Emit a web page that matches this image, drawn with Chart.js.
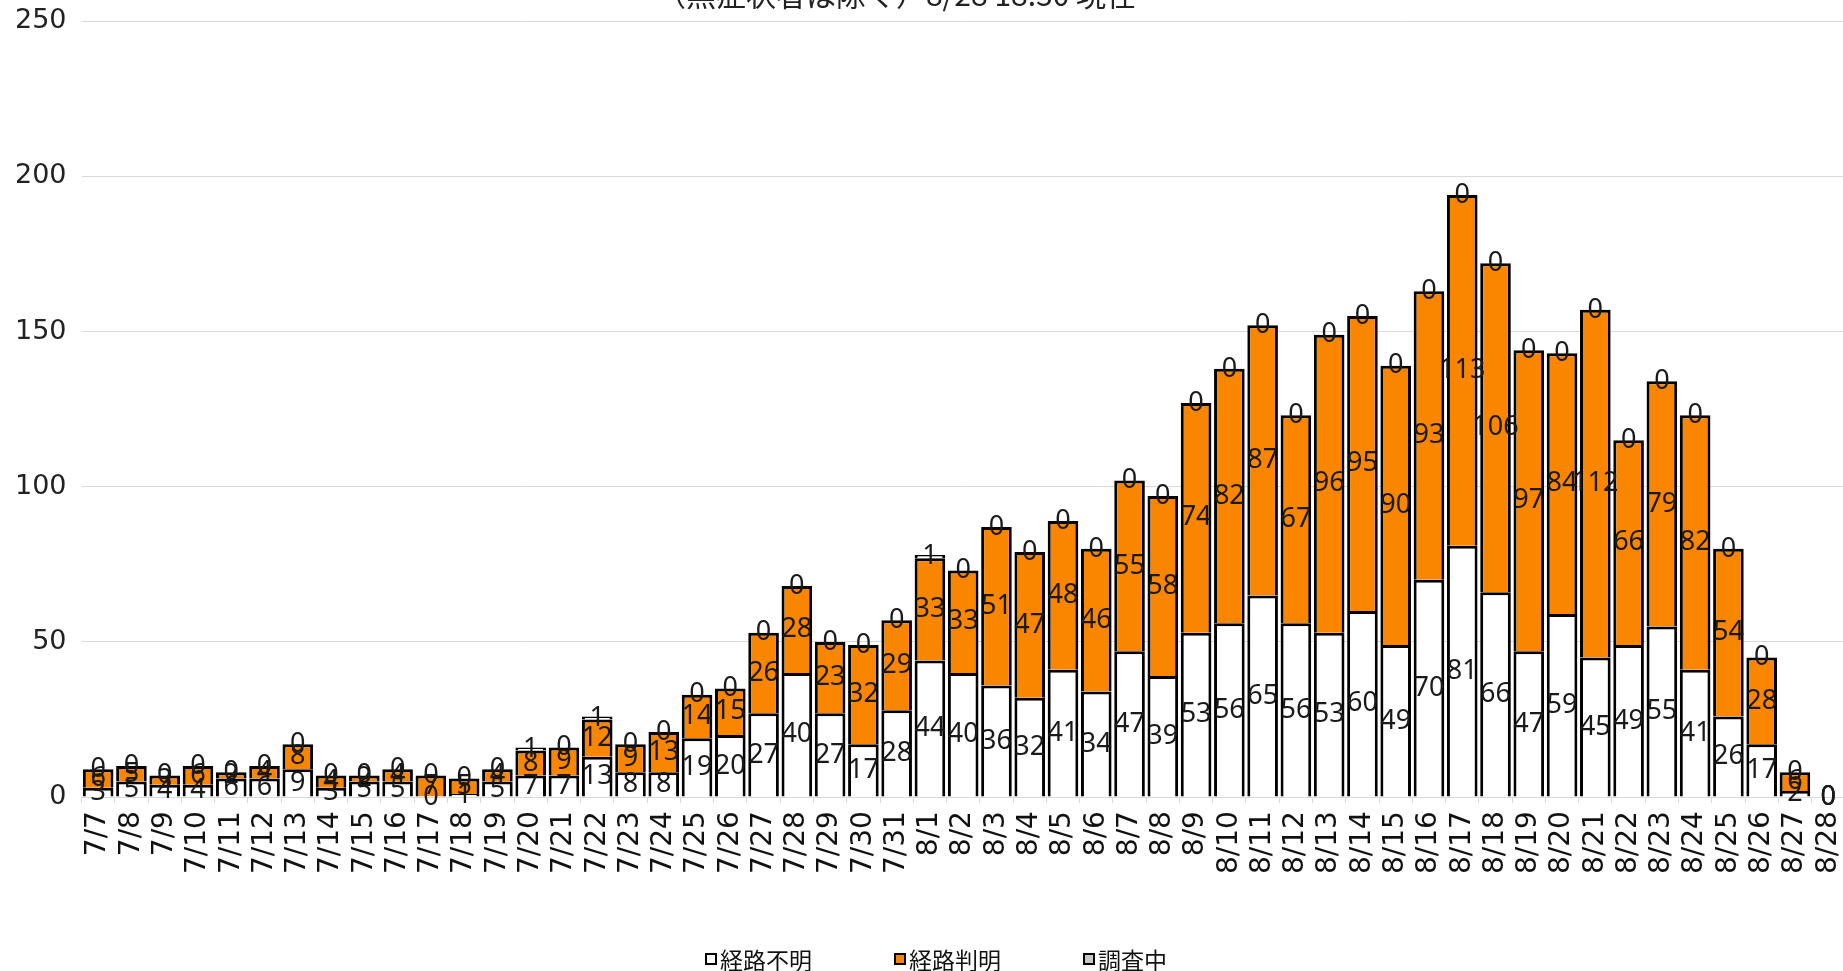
<!DOCTYPE html>
<html>
<head>
<meta charset="utf-8">
<script src="https://cdn.jsdelivr.net/npm/chart.js@4.4.1/dist/chart.umd.min.js"></script>
<style>
  html, body { margin: 0; padding: 0; background: #fff; overflow: hidden; width: 1843px; height: 971px; }
  #chartBox { position: absolute; left: 0; top: -10px; }
  #legend { position: absolute; top: 945px; left: 705px; display: flex; gap: 82px;
            font: 23px "Noto Sans CJK JP"; color: #111; line-height: 28px; }
  #legend .item { display: flex; align-items: center; }
  #legend .box { width: 8px; height: 8px; border: 2px solid #000; margin-right: 3px; }
</style>
</head>
<body>
<div id="chartBox"><canvas id="chart" width="1870" height="981"></canvas></div>
<div id="legend"></div>
<script>
const dates = [
  "7/7","7/8","7/9","7/10","7/11","7/12","7/13","7/14","7/15","7/16","7/17","7/18","7/19",
  "7/20","7/21","7/22","7/23","7/24","7/25","7/26","7/27","7/28","7/29","7/30","7/31",
  "8/1","8/2","8/3","8/4","8/5","8/6","8/7","8/8","8/9","8/10","8/11","8/12","8/13","8/14",
  "8/15","8/16","8/17","8/18","8/19","8/20","8/21","8/22","8/23","8/24","8/25","8/26","8/27","8/28"
];
// 経路不明
const unknownRoute = [
  3,5,4,4,6,6,9,3,5,5,0,1,5,7,7,13,8,8,19,20,27,40,27,17,28,
  44,40,36,32,41,34,47,39,53,56,65,56,53,60,49,70,81,66,47,59,45,49,55,41,26,17,2,0
];
// 経路判明
const knownRoute = [
  6,5,3,6,2,4,8,4,2,4,7,5,4,8,9,12,9,13,14,15,26,28,23,32,29,
  33,33,51,47,48,46,55,58,74,82,87,67,96,95,90,93,113,106,97,84,112,66,79,82,54,28,6,0
];
// 調査中
const investigating = [
  0,0,0,0,0,0,0,0,0,0,0,0,0,1,0,1,0,0,0,0,0,0,0,0,0,
  1,0,0,0,0,0,0,0,0,0,0,0,0,0,0,0,0,0,0,0,0,0,0,0,0,0,0,0
];
const seriesNames = ["経路不明", "経路判明", "調査中"];
const seriesColors = ["#ffffff", "#fa8600", "#ffffff"];
const titleText = "（無症状者は除く）8/28 18:30 現在";

const barStyle = {
  borderColor: "#000",
  borderWidth: { top: 3, left: 3, right: 3, bottom: 0 },
  borderSkipped: false,
  barPercentage: 0.92,
  categoryPercentage: 1,
};

const valueLabels = {
  id: "valueLabels",
  afterDatasetsDraw(chart) {
    const ctx = chart.ctx;
    ctx.save();
    ctx.font = '27px "Noto Sans"';
    ctx.fillStyle = "#1a1a1a";
    ctx.textAlign = "center";
    ctx.textBaseline = "middle";
    chart.data.datasets.forEach((ds, i) => {
      chart.getDatasetMeta(i).data.forEach((bar, j) => {
        ctx.fillText(String(ds.data[j]), bar.x, (bar.y + bar.base) / 2);
      });
    });
    ctx.restore();
  }
};

// title sits mostly above the picture, only its bottom edge shows
const cutTitle = {
  id: "cutTitle",
  afterDraw(chart) {
    const ctx = chart.ctx;
    ctx.save();
    ctx.font = '30px "Noto Sans CJK JP"';
    ctx.fillStyle = "#222";
    ctx.textAlign = "center";
    ctx.textBaseline = "alphabetic";
    ctx.fillText(titleText, 896, 16);
    ctx.restore();
  }
};

const chart = new Chart(document.getElementById("chart"), {
  type: "bar",
  data: {
    labels: dates,
    datasets: [unknownRoute, knownRoute, investigating].map((values, i) => ({
      label: seriesNames[i],
      data: values,
      backgroundColor: seriesColors[i],
      ...barStyle,
    })),
  },
  options: {
    responsive: false,
    animation: false,
    layout: { padding: { left: 0, right: 19, top: 0, bottom: 89 } },
    plugins: {
      legend: { display: false },
      tooltip: { enabled: false },
    },
    scales: {
      x: {
        stacked: true,
        offset: true,
        grid: { drawOnChartArea: false, color: "#d9d9d9", tickLength: 6, offset: true },
        border: { color: "#d9d9d9" },
        ticks: {
          autoSkip: false,
          minRotation: 90,
          maxRotation: 90,
          padding: 8,
          color: "#111",
          font: { family: "DejaVu Sans", size: 28 },
        },
      },
      y: {
        stacked: true,
        min: 0,
        max: 250,
        ticks: { stepSize: 50, padding: 15, color: "#222", font: { family: "DejaVu Sans", size: 27 } },
        grid: { color: "#d9d9d9", drawTicks: false },
        border: { display: false },
      },
    },
  },
  plugins: [valueLabels, cutTitle],
});

const legendEl = document.getElementById("legend");
seriesNames.forEach((name, i) => {
  const item = document.createElement("div");
  item.className = "item";
  const box = document.createElement("span");
  box.className = "box";
  box.style.background = i === 2 ? "#c8c8c8" : seriesColors[i];
  item.appendChild(box);
  item.appendChild(document.createTextNode(name));
  legendEl.appendChild(item);
});
</script>
</body>
</html>
